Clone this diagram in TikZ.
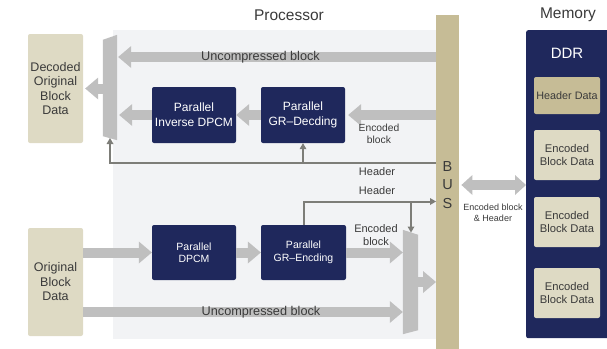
\documentclass[tikz,border=0pt]{standalone}
\usepackage{fontspec}
\setmainfont{Liberation Sans}
\usetikzlibrary{arrows.meta,calc}
\definecolor{navy}{HTML}{1F285C}
\definecolor{tanc}{HTML}{C6BC96}
\definecolor{beige}{HTML}{DEDAC4}
\definecolor{agrey}{HTML}{BFBFBF}
\definecolor{lgrey}{HTML}{7D7D78}
\definecolor{pbg}{HTML}{F2F3F5}
\definecolor{txt}{HTML}{3A3A3A}
\begin{document}
\begin{tikzpicture}[x=1pt,y=-1pt,
  navybox/.style={fill=navy, rounded corners=2pt, text=white, align=center, inner sep=0pt},
  lightbox/.style={fill=beige, rounded corners=2pt, text=txt, align=center, inner sep=0pt},
  fat/.style={draw=agrey, line width=10pt, -{Triangle[width=22pt,length=13pt,line width=0pt]}},
  hl/.style={draw=lgrey, line width=2pt, -{Triangle[width=7pt,length=6pt,line width=0pt]}},
  lbl/.style={text=txt, inner sep=0pt, align=center}
]
\useasboundingbox (0,0) rectangle (607,348);

% backgrounds
\node[fill=pbg, minimum width=332pt, minimum height=309pt, anchor=north west, inner sep=0pt] (proc) at (113,30) {};
\node[fill=tanc, minimum width=23pt, minimum height=335pt, anchor=north west, inner sep=0pt] (bus) at (436,15) {};
\node[text=txt, align=center, inner sep=0pt, font=\fontsize{14.5}{18.2}\selectfont] (buslbl) at (447.5,185) {B\\U\\S};
\node[fill=navy, rounded corners=2pt, minimum width=84pt, minimum height=308pt, anchor=north west, inner sep=0pt] (ddr) at (526,30) {};

% titles
\node[lbl, font=\fontsize{15.5}{16}\selectfont] (ptitle) at (289,15) {Processor};
\node[lbl, font=\fontsize{15.5}{16}\selectfont] (mtitle) at (568,15) {Memory};
\node[text=white, inner sep=0pt, font=\fontsize{15}{16}\selectfont] (ddrlbl) at (567,53) {DDR};

% memory boxes
\node[lightbox, fill=tanc, minimum width=66pt, minimum height=37pt, font=\fontsize{10.8}{12}\selectfont] (hdr) at (567,95.5) {Header Data};
\node[lightbox, minimum width=66pt, minimum height=50pt, font=\fontsize{11.2}{13}\selectfont] (eb1) at (567,155) {Encoded\\Block Data};
\node[lightbox, minimum width=66pt, minimum height=50pt, font=\fontsize{11.2}{13}\selectfont] (eb2) at (567,222) {Encoded\\Block Data};
\node[lightbox, minimum width=66pt, minimum height=50pt, font=\fontsize{11.2}{13}\selectfont] (eb3) at (567,293) {Encoded\\Block Data};

% left boxes
\node[lightbox, minimum width=55pt, minimum height=109pt, font=\fontsize{12.5}{14.5}\selectfont] (dec) at (55.5,88.5) {Decoded\\Original\\Block\\Data};
\node[lightbox, minimum width=55pt, minimum height=108pt, font=\fontsize{12.5}{14.5}\selectfont] (orig) at (55.5,282) {Original\\Block\\Data};

% navy boxes
\node[navybox, minimum width=84pt, minimum height=56pt, font=\fontsize{12}{15}\selectfont] (invd) at (194,115) {Parallel\\Inverse DPCM};
\node[navybox, minimum width=84pt, minimum height=56pt, font=\fontsize{12}{15}\selectfont] (grdec) at (303,115) {Parallel\\GR--Decding};
\node[navybox, minimum width=84pt, minimum height=55pt, font=\fontsize{10.5}{12.5}\selectfont] (dpcm) at (194,252.5) {Parallel\\DPCM};
\node[navybox, minimum width=85pt, minimum height=55pt, font=\fontsize{10.5}{12.5}\selectfont] (grenc) at (303.5,252.5) {Parallel\\GR--Encding};

% muxes
\node[minimum width=14pt, minimum height=105pt, inner sep=0pt] (muxL) at (110,87.5) {};
\fill[agrey] (muxL.north east) -- (muxL.south east) -- ([shift={(0,-4)}]muxL.south west) -- ([shift={(0,5)}]muxL.north west) -- cycle;
\node[minimum width=15pt, minimum height=104pt, inner sep=0pt] (muxR) at (410.5,282) {};
\fill[agrey] (muxR.north west) -- (muxR.south west) -- ([shift={(0,-4)}]muxR.south east) -- ([shift={(0,5)}]muxR.north east) -- cycle;

% level coordinates
\coordinate (u1) at (300,57);
\coordinate (u2) at (300,312);
\coordinate (h1) at (300,163);
\coordinate (h2) at (300,201.5);
\coordinate (d1) at (490,185);
\coordinate (mlb) at (110,138);
\coordinate (mrt) at (411,232.5);

% fat arrows
\draw[fat] (bus.west |- u1) -- ([xshift=1pt]muxL.east |- u1);
\draw[fat] (muxL.west |- dec.east) -- ([xshift=2pt]dec.east);
\draw[fat] (invd.west) -- ([xshift=2pt]muxL.east |- invd.west);
\draw[fat] (grdec.west) -- (invd.east);
\draw[fat] (bus.west |- grdec.east) -- ([xshift=3pt]grdec.east);
\draw[fat] (orig.east |- dpcm.west) -- (dpcm.west);
\draw[fat] (dpcm.east) -- (grenc.west);
\draw[fat] (grenc.east) -- (muxR.west |- grenc.east);
\draw[fat] (orig.east |- u2) -- (muxR.west |- u2);
\draw[fat] (muxR.east) -- (bus.west |- muxR.east);
\draw[draw=agrey, line width=10pt, {Triangle[width=20pt,length=11pt,line width=0pt]}-{Triangle[width=20pt,length=11pt,line width=0pt]}] ([xshift=2pt]bus.east |- d1) -- (ddr.west |- d1);

% thin header lines
\draw[hl] (bus.west |- h1) -| (mlb);
\draw[hl] (grdec.south |- h1) -- (grdec.south);
\draw[hl] (grenc.north) |- (bus.west |- h2);
\draw[hl] (mrt |- h2) -- (mrt);

% labels
\node[lbl, font=\fontsize{12.7}{13}\selectfont] (ulbl1) at (260.5,57) {Uncompressed block};
\node[lbl, font=\fontsize{12.7}{13}\selectfont] (ulbl2) at (261,312) {Uncompressed block};
\node[lbl, font=\fontsize{10.3}{12}\selectfont] (eblbl1) at (379,134) {Encoded\\block};
\node[lbl, font=\fontsize{11}{13}\selectfont] (eblbl2) at (376,235.5) {Encoded\\block};
\node[lbl, font=\fontsize{11}{12}\selectfont] (hlbl1) at (377,172) {Header};
\node[lbl, font=\fontsize{11}{12}\selectfont] (hlbl2) at (377,190.5) {Header};
\node[lbl, font=\fontsize{9}{10.5}\selectfont] (dlbl) at (493,213) {Encoded block\\\& Header};
\end{tikzpicture}
\end{document}
